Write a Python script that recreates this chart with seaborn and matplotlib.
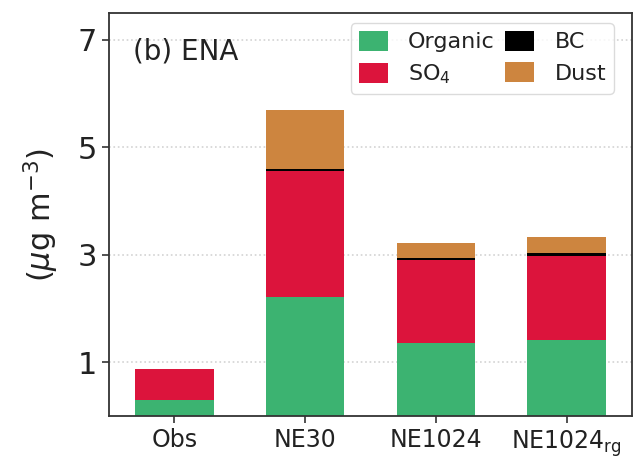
import numpy as np
import pandas as pd
import matplotlib.pyplot as plt
import seaborn as sns

# stacked aerosol composition at ENA
cases = ['Obs', 'NE30', 'NE1024', r'NE1024$_{\rm rg}$']
organic = [0.30, 2.22, 1.36, 1.41]
so4 = [0.57, 2.34, 1.55, 1.57]
bc = [0.00, 0.04, 0.03, 0.05]
dust = [0.00, 1.10, 0.28, 0.30]

species = ['Organic', r'SO$_4$', 'BC', 'Dust']
colors = ['mediumseagreen', 'crimson', 'black', 'peru']

df = pd.DataFrame({'case': cases, 'Organic': organic, r'SO$_4$': so4, 'BC': bc, 'Dust': dust})

sns.set_style('ticks')
fig = plt.figure(figsize=(6.34, 4.65), dpi=100)
ax = fig.add_axes([0.172, 0.105, 0.825, 0.867])

bottom = np.zeros(len(cases))
for sp, c in zip(species, colors):
    sns.barplot(data=df, x='case', y=sp, color=c, bottom=bottom, width=0.6,
                saturation=1, label=sp, ax=ax, edgecolor='none', linewidth=0)
    bottom = bottom + df[sp].values

ax.set_ylim(0, 7.5)
ax.set_xlim(-0.5, 3.5)
ax.set_yticks([1, 3, 5, 7])
ax.yaxis.grid(True, linestyle=':', color='lightgray', linewidth=1.2)
ax.set_axisbelow(True)
ax.set_xlabel('')
ax.set_ylabel(r'($\mu$g m$^{-3}$)', fontsize=22, color='#222222', labelpad=12)
ax.tick_params(axis='y', labelsize=22, length=5, width=1.2, color='#333333', labelcolor='#222222')
ax.tick_params(axis='x', labelsize=17, length=5, width=1.2, color='#333333', labelcolor='#222222')
for s in ax.spines.values():
    s.set_color('#333333')
    s.set_linewidth(1.3)

ax.text(0.045, 0.905, '(b) ENA', transform=ax.transAxes, fontsize=20, va='center', color='#222222')

h, l = ax.get_legend_handles_labels()
leg = ax.legend(h, l, ncol=2, loc='upper right', bbox_to_anchor=(0.965, 0.975), fontsize=16,
                frameon=True, handlelength=1.3, handleheight=1.0, columnspacing=0.5,
                handletextpad=0.9, borderaxespad=0.0, borderpad=0.35, labelspacing=0.45,
                fancybox=True, edgecolor='lightgray')
for t in leg.get_texts():
    t.set_color('#222222')

fig.savefig('out.png', dpi=100)
